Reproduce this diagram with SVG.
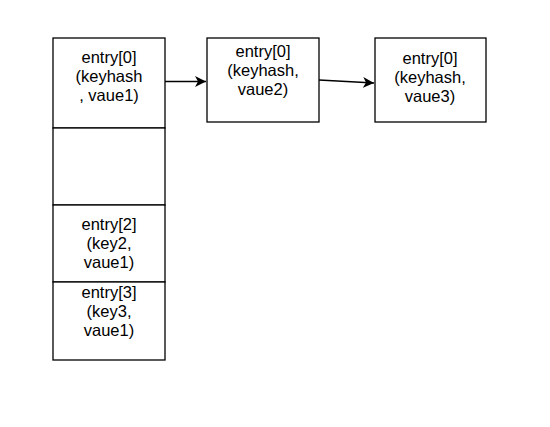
<svg xmlns="http://www.w3.org/2000/svg" width="550" height="427" viewBox="0 0 550 427">
<style>
.box{fill:#fff;stroke:#000;stroke-width:1.3}
.t{font-family:"Liberation Sans",Arial,sans-serif;font-size:16.5px;fill:#000;text-anchor:middle}
.c{stroke:#000;stroke-width:1.4;fill:none}
</style>
<defs>
<marker id="ah" markerWidth="12" markerHeight="12" refX="11" refY="6" orient="auto" markerUnits="userSpaceOnUse">
<path d="M0,0.5 L11,6 L0,11.5 L3,6 Z" fill="#000"/>
</marker>
</defs>
<rect width="550" height="427" fill="#fff"/>
<g id="cell0">
<rect class="box" x="53" y="38" width="112" height="90"/>
<text class="t" x="109" y="63">entry[0]</text>
<text class="t" x="109" y="82">(keyhash</text>
<text class="t" x="109" y="101">, vaue1)</text>
</g>
<g id="cell1">
<rect class="box" x="53" y="128" width="112" height="77"/>
</g>
<g id="cell2">
<rect class="box" x="53" y="205" width="112" height="77"/>
<text class="t" x="109" y="230">entry[2]</text>
<text class="t" x="109" y="249">(key2,</text>
<text class="t" x="109" y="268">vaue1)</text>
</g>
<g id="cell3">
<rect class="box" x="53" y="282" width="112" height="78"/>
<text class="t" x="109" y="298">entry[3]</text>
<text class="t" x="109" y="317">(key3,</text>
<text class="t" x="109" y="336">vaue1)</text>
</g>
<g id="node2">
<rect class="box" x="207" y="38" width="112" height="84"/>
<text class="t" x="263" y="57">entry[0]</text>
<text class="t" x="263" y="76">(keyhash,</text>
<text class="t" x="263" y="95">vaue2)</text>
</g>
<g id="node3">
<rect class="box" x="375" y="38" width="111" height="84"/>
<text class="t" x="430" y="64">entry[0]</text>
<text class="t" x="430" y="83">(keyhash,</text>
<text class="t" x="430" y="102">vaue3)</text>
</g>
<g id="connectors">
<line class="c" x1="165" y1="81.5" x2="206" y2="81.5" marker-end="url(#ah)"/>
<line class="c" x1="319" y1="80" x2="374" y2="83" marker-end="url(#ah)"/>
</g>
</svg>
